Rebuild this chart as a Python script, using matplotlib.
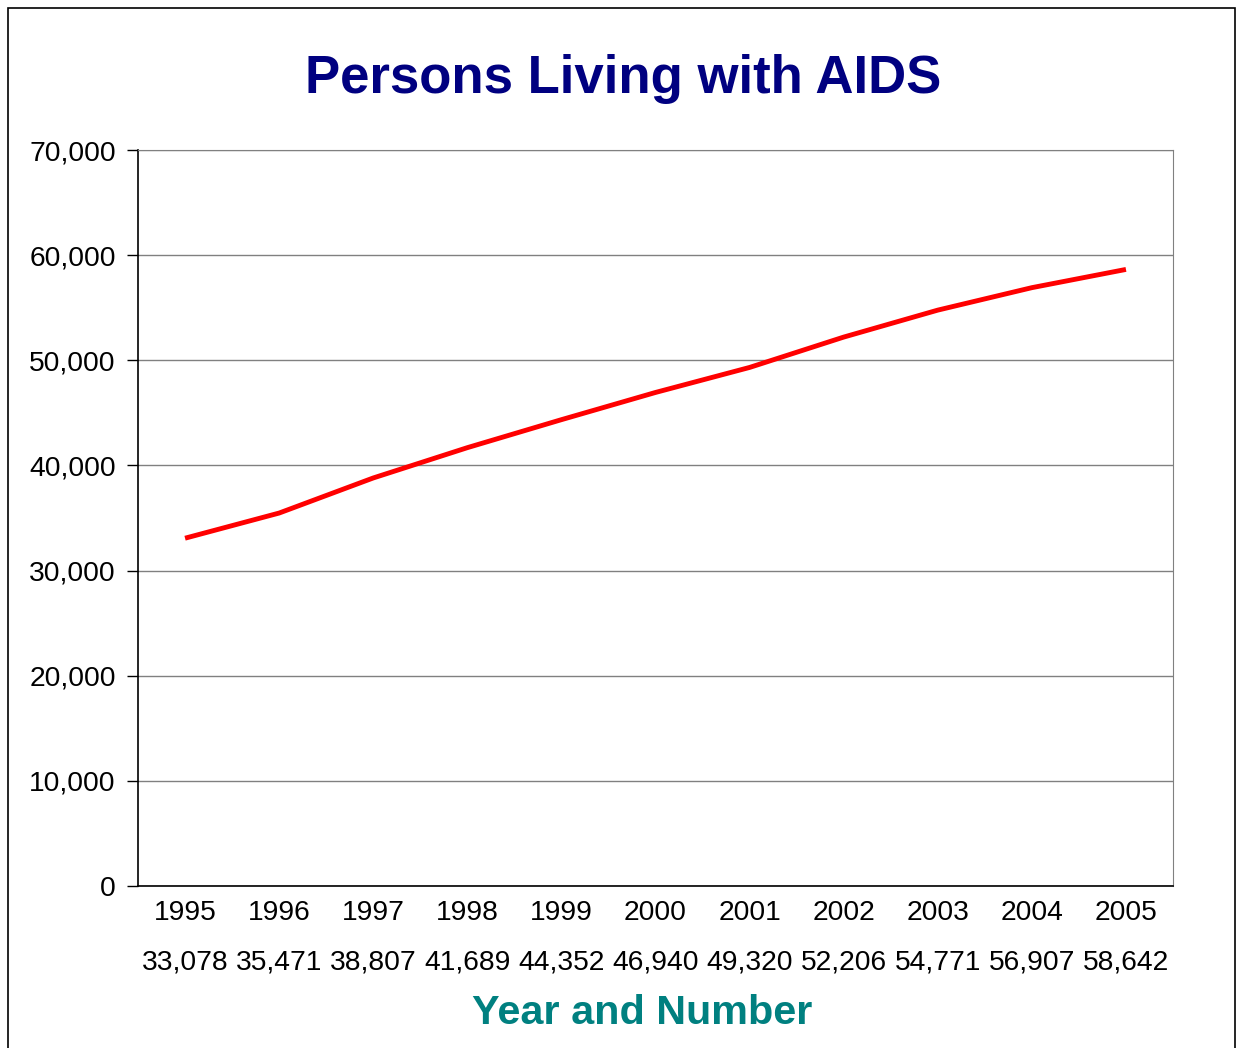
import matplotlib.pyplot as plt
from matplotlib.patches import Rectangle
from matplotlib.ticker import FuncFormatter

plt.rcParams['font.family'] = ['Liberation Sans', 'DejaVu Sans']

years = [1995, 1996, 1997, 1998, 1999, 2000, 2001, 2002, 2003, 2004, 2005]
persons = [33078, 35471, 38807, 41689, 44352, 46940, 49320, 52206, 54771, 56907, 58642]
yticks = [0, 10000, 20000, 30000, 40000, 50000, 60000, 70000]

fig = plt.figure(figsize=(12.36, 10.48), dpi=100)
ax = fig.add_axes([138 / 1236, 162 / 1048, 1035 / 1236, 736 / 1048])

# outer frame of the chart
fig.patches.append(Rectangle((8 / 1236, -0.01), 1227 / 1236, 1 - 8 / 1048 + 0.01,
                             transform=fig.transFigure, fill=False,
                             edgecolor='black', linewidth=1.2))

x = list(range(len(years)))
ax.plot(x, persons, color='#ff0000', linewidth=3.5, solid_capstyle='butt')

ax.set_xlim(-0.5, len(years) - 0.5)
ax.set_ylim(0, 70000)
ax.set_yticks(yticks)
ax.yaxis.set_major_formatter(FuncFormatter(lambda v, p: f'{int(v):,}'))
ax.grid(axis='y', color='#808080', linewidth=1)
ax.set_axisbelow(True)

ax.set_xticks(x)
ax.set_xticklabels([f'{y}\n{p:,}' for y, p in zip(years, persons)],
                   linespacing=2.17, fontsize=20.3)
ax.tick_params(axis='x', length=0, pad=10)
ax.tick_params(axis='y', length=8, width=1, pad=8, labelsize=20.3, direction='out')

for s in ['top', 'right']:
    ax.spines[s].set_color('#808080')
for s in ['left', 'bottom']:
    ax.spines[s].set_color('black')
    ax.spines[s].set_linewidth(1.2)

fig.text(623 / 1236, 1 - 79 / 1048, 'Persons Living with AIDS', ha='center', va='center',
         fontsize=38, fontweight='bold', color='#000080')
fig.text(642 / 1236, 1 - 1013 / 1048, 'Year and Number', ha='center', va='center',
         fontsize=29.8, fontweight='bold', color='#008080')

fig.savefig('out.png', dpi=100)
